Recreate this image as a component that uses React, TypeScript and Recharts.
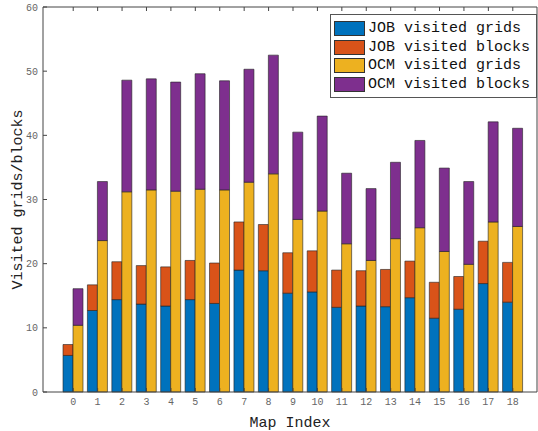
import { BarChart, Bar, XAxis, YAxis, Legend, Label } from 'recharts'

const mapIndex = ['0', '1', '2', '3', '4', '5', '6', '7', '8', '9', '10', '11', '12', '13', '14', '15', '16', '17', '18']
const jobGrids = [5.7, 12.7, 14.4, 13.7, 13.4, 14.4, 13.8, 19.0, 18.9, 15.4, 15.6, 13.2, 13.4, 13.3, 14.7, 11.5, 12.9, 16.9, 14.0]
const jobBlocks = [1.7, 4.0, 5.9, 6.0, 6.1, 6.1, 6.3, 7.5, 7.2, 6.3, 6.4, 5.8, 5.5, 5.8, 5.7, 5.6, 5.1, 6.6, 6.2]
const ocmGrids = [10.4, 23.6, 31.2, 31.5, 31.3, 31.6, 31.5, 32.7, 34.0, 26.9, 28.2, 23.1, 20.5, 23.9, 25.6, 21.9, 19.9, 26.5, 25.8]
const ocmBlocks = [5.7, 9.2, 17.4, 17.3, 17.0, 18.0, 17.0, 17.6, 18.5, 13.6, 14.8, 11.0, 11.2, 11.9, 13.6, 13.0, 12.9, 15.6, 15.3]
const yTicks = [0, 10, 20, 30, 40, 50, 60]

const SERIES = [
  { key: 'jobGrids', stack: 'job', color: '#0072BD', label: 'JOB visited grids' },
  { key: 'jobBlocks', stack: 'job', color: '#D95319', label: 'JOB visited blocks' },
  { key: 'ocmGrids', stack: 'ocm', color: '#EDB120', label: 'OCM visited grids' },
  { key: 'ocmBlocks', stack: 'ocm', color: '#7E2F8E', label: 'OCM visited blocks' },
]

const data = mapIndex.map((idx, i) => ({
  idx,
  jobGrids: jobGrids[i],
  jobBlocks: jobBlocks[i],
  ocmGrids: ocmGrids[i],
  ocmBlocks: ocmBlocks[i],
}))

const FONT = '"Liberation Mono", "DejaVu Sans Mono", monospace'
const AXIS = '#444'
const tickStyle = { fontSize: 10, fill: '#666', fontFamily: FONT }
const noLabel = () => ''

function LegendBox() {
  return (
    <div style={{ width: 205, height: 78, border: '1px solid #555', background: '#fff', paddingTop: 4, boxSizing: 'content-box' }}>
      {SERIES.map(s => (
        <div key={s.key} style={{ display: 'flex', alignItems: 'center', height: 18.7, marginLeft: 3 }}>
          <div style={{ width: 29, height: 13, background: s.color, border: '1px solid #333' }} />
          <span style={{ marginLeft: 3, fontFamily: FONT, fontSize: 15, color: '#111', whiteSpace: 'pre' }}>{s.label}</span>
        </div>
      ))}
    </div>
  )
}

export default function App() {
  return (
    <div style={{ position: 'absolute', left: 0, top: 0, width: 538, height: 431, background: '#fff' }}>
      <BarChart width={538} height={431} data={data} margin={{ top: 6, right: 0, bottom: 0, left: 0 }}
        barGap={0} barSize={10} style={{ fontFamily: FONT }}>
        <XAxis dataKey="idx" height={39} padding={{ left: 18, right: 12 }} stroke={AXIS}
          tickSize={-4} tickMargin={10} tick={tickStyle} interval={0}>
          <Label value="Map Index" position="insideBottom" offset={4} style={{ fontSize: 15, fill: '#222', fontFamily: FONT }} />
        </XAxis>
        <XAxis xAxisId="top" dataKey="idx" orientation="top" height={1} padding={{ left: 18, right: 12 }} stroke={AXIS}
          tickSize={-4} tick={tickStyle} tickFormatter={noLabel} interval={0} />
        <YAxis domain={[0, 60]} ticks={yTicks} width={43} stroke={AXIS} tickSize={-4} tickMargin={9} tick={tickStyle}>
          <Label value="Visited grids/blocks" angle={-90} position="center" dx={-5} style={{ fontSize: 15, fill: '#222', fontFamily: FONT }} />
        </YAxis>
        <YAxis yAxisId="r" orientation="right" domain={[0, 60]} ticks={yTicks} width={1} stroke={AXIS}
          tickSize={-4} tick={tickStyle} tickFormatter={noLabel} />
        <Legend layout="vertical" verticalAlign="middle" align="center" content={() => <LegendBox />}
          wrapperStyle={{ position: 'absolute', left: 330, top: 14, width: 207 }} />
        {SERIES.map(s => (
          <Bar key={s.key} dataKey={s.key} stackId={s.stack} fill={s.color} stroke="#222" strokeWidth={0.6}
            name={s.label} isAnimationActive={false} />
        ))}
      </BarChart>
    </div>
  )
}
